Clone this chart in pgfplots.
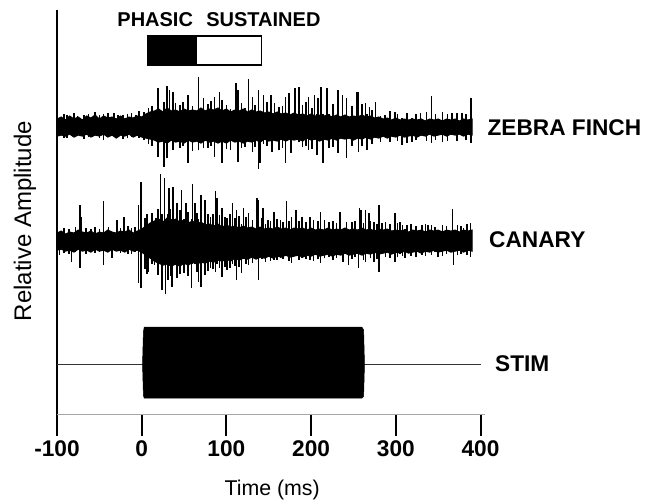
\documentclass[border=0pt]{standalone}
\usepackage{pgfplots}
\usepackage{pgfplotstable}
\pgfplotsset{compat=1.18}
\usepackage{fontspec}
\setmainfont{Liberation Sans}

\pgfplotstableread{
x t b
-92 300 276
-88 299 276
-80 301 280
-76 298 279
-68 299 275
-63 300 277
-55 302 279
-50 299 276
-45 300 274
-40 301 278
-33 301 278
-28 299 277
-22 299 275
-17 300 276
-12 301 277
-7 299 278
-3 303 276
3 302 274
8 306 270
12 308 268
19 326 257
26 312 247
30 328 256
33 324 280
37 322 264
40 311 275
45 309 266
49 312 268
55 319 251
60 308 263
67 337 264
73 316 266
78 310 266
82 313 268
86 317 257
92 322 275
95 314 251
100 309 265
105 305 264
111 331 275
114 324 252
118 311 266
122 306 267
126 335 276
131 317 262
134 309 267
138 324 245
140 300 251
144 319 270
148 312 268
153 319 275
154 300 262
157 311 275
162 307 264
166 308 266
170 317 251
174 321 275
176 300 261
181 326 276
186 327 272
190 309 267
194 312 268
197 317 264
201 306 265
204 319 274
207 300 259
208 316 276
212 327 276
214 300 251
219 326 276
221 300 266
226 310 267
232 324 261
237 319 276
242 316 256
248 308 268
254 322 276
256 322 262
260 310 268
264 311 276
266 300 264
269 307 276
272 304 270
276 312 277
282 298 272
287 299 278
293 303 272
299 302 277
302 300 273
307 296 269
313 301 271
319 296 272
324 300 274
329 301 279
336 302 273
342 318 271
347 300 274
355 302 272
361 300 273
366 301 279
372 301 273
378 301 279
383 300 274
389 316 271
}\zfspikes

\pgfplotstableread{
x t b
-97 180 159
-92 186 161
-86 185 160
-83 182 152
-78 187 162
-73 209 146
-71 197 165
-66 186 160
-60 185 162
-55 187 161
-50 185 162
-45 213 149
-39 187 165
-35 182 156
-29 194 165
-25 186 161
-21 197 163
-16 188 160
-12 186 160
-8 187 162
-4 209 131
-1 232 126
4 196 145
6 200 140
8 190 142
12 201 150
15 190 149
17 196 158
19 205 139
22 240 150
24 200 124
27 236 158
28 195 120
31 200 134
32 226 150
34 205 138
36 195 127
37 227 150
42 211 136
45 204 140
47 224 150
50 195 141
52 211 150
55 202 138
59 195 126
60 230 150
63 211 150
65 201 142
67 195 132
70 219 127
75 214 139
78 200 143
81 197 146
84 200 145
87 223 142
89 216 150
92 199 146
95 206 137
98 197 147
101 196 144
104 200 146
107 211 150
110 196 148
112 204 134
115 198 147
118 190 141
120 206 155
123 197 150
126 201 149
131 194 151
136 216 155
138 214 134
142 196 155
143 206 158
146 190 152
149 194 160
152 193 153
156 202 154
160 195 154
164 194 156
167 192 155
171 213 160
174 193 153
177 197 151
182 204 160
186 193 154
189 197 156
194 192 155
199 197 154
203 194 153
208 193 155
211 202 151
216 194 156
221 192 157
226 193 154
230 191 156
234 202 160
238 185 152
242 192 160
244 185 149
248 192 155
252 193 157
256 185 146
257 206 160
259 204 160
262 191 154
264 204 152
268 201 160
270 193 156
274 192 152
278 190 155
280 209 142
284 191 160
288 192 157
293 190 156
299 201 152
302 191 157
305 192 160
308 189 158
311 185 156
313 189 162
318 190 158
324 188 157
331 189 159
335 190 158
338 189 162
342 189 159
346 187 162
350 182 157
355 189 158
360 188 160
367 205 162
368 182 149
373 189 159
377 188 160
380 186 162
384 190 159
388 191 157
}\caspikes

\begin{document}
\begin{tikzpicture}
\begin{axis}[
  scale only axis,
  x=0.635pt, y=0.75pt,
  xmin=-100, xmax=405, ymin=0, ymax=404,
  clip=false,
  axis x line*=bottom, axis y line*=left,
  x axis line style={gray!70, line width=0.8pt},
  y axis line style={black, line width=1.5pt},
  xtick={-100,0,100,200,300,400},
  xticklabels={-100,0,100,200,300,400},
  ytick=\empty,
  tick align=outside,
  major tick length=16pt,
  x tick style={black, line width=1.5pt},
  xticklabel style={font=\bfseries\fontsize{17}{20}\selectfont},
]
% bounding box of the whole picture (666 x 501 px)
\path (axis cs:-167.3,-87) rectangle (axis cs:619,414);

% phasic / sustained bar
\addplot[fill=black, draw=black, line width=0.8pt] coordinates {(7,349) (65,349) (65,378) (7,378)} --cycle;
\addplot[fill=white, draw=black, line width=0.8pt] coordinates {(65,349) (141,349) (141,378) (65,378)} --cycle;
\node[anchor=base west, inner sep=0, font=\bfseries\fontsize{15}{16}\selectfont] at (axis cs:-29,388) {PHASIC};
\node[anchor=base west, inner sep=0, font=\bfseries\fontsize{15}{16}\selectfont] at (axis cs:76,388) {SUSTAINED};

% zebra finch envelope
\addplot[fill=black, draw=black, line width=0.8pt] table {
x y
-100 295
-95 297
-90 294
-85 298
-80 295
-75 297
-70 294
-65 298
-60 296
-55 299
-50 295
-45 298
-40 296
-35 297
-30 295
-25 298
-20 295
-15 297
-10 296
-5 298
0 297
5 300
10 302
15 303
20 305
25 302
30 306
35 303
40 304
45 302
50 305
55 303
60 304
65 303
70 306
75 303
80 305
85 304
90 306
95 303
100 305
105 302
110 304
115 303
120 305
125 302
130 304
135 302
140 303
145 301
150 302
155 300
160 302
165 300
170 301
175 299
180 301
185 299
190 300
195 298
200 300
205 298
210 299
215 298
220 299
225 297
230 299
235 297
240 299
245 297
250 298
255 297
260 299
265 297
270 298
275 296
280 297
285 295
290 296
295 294
300 296
305 294
310 295
315 294
320 295
325 294
330 295
335 293
340 295
345 294
350 295
355 293
360 295
365 294
370 295
375 293
380 295
385 294
390 295
390 279
385 280
380 278
375 280
370 279
365 280
360 278
355 280
350 279
345 278
340 280
335 278
330 279
325 277
320 279
315 278
310 277
305 279
300 277
295 278
290 276
285 278
280 276
275 277
270 275
265 277
260 275
255 276
250 274
245 276
240 275
235 276
230 274
225 276
220 274
215 275
210 273
205 275
200 274
195 276
190 273
185 275
180 274
175 275
170 273
165 275
160 273
155 274
150 273
145 275
140 272
135 274
130 272
125 273
120 271
115 273
110 272
105 274
100 271
95 273
90 271
85 273
80 272
75 274
70 271
65 273
60 272
55 274
50 271
45 273
40 272
35 274
30 271
25 273
20 272
15 274
10 275
5 276
0 277
-5 279
-10 277
-15 280
-20 278
-25 279
-30 276
-35 279
-40 277
-45 280
-50 278
-55 279
-60 277
-65 280
-70 278
-75 279
-80 277
-85 280
-90 278
-95 279
-100 278
} --cycle;
\addplot[draw=none, mark=none,
  error bars/.cd, y dir=minus, y explicit, error mark=none,
  error bar style={draw=black, line width=1.2pt}]
  table[x=x, y=t, y error minus expr=\thisrow{t}-\thisrow{b}] {\zfspikes};

% canary envelope
\addplot[fill=black, draw=black, line width=0.8pt] table {
x y
-100 181
-95 183
-90 180
-85 182
-80 181
-75 184
-70 182
-65 181
-60 183
-55 180
-50 182
-45 181
-40 184
-35 182
-30 181
-25 183
-20 182
-15 184
-10 181
-5 183
0 185
5 188
10 191
15 193
20 195
25 192
30 196
35 193
40 195
45 192
50 194
55 191
60 193
65 190
70 192
75 189
80 190
85 188
90 190
95 187
100 189
105 187
110 188
115 186
120 188
125 186
130 187
135 185
140 187
145 185
150 186
155 185
160 187
165 185
170 186
175 184
180 186
185 185
190 186
195 184
200 186
205 184
210 185
215 184
220 186
225 184
230 185
235 184
240 186
245 184
250 185
255 184
260 186
265 184
270 185
275 183
280 185
285 184
290 185
295 183
300 184
305 183
310 184
315 182
320 184
325 183
330 184
335 182
340 184
345 183
350 184
355 182
360 184
365 183
370 184
375 182
380 184
385 183
390 184
390 163
385 164
380 162
375 164
370 163
365 162
360 164
355 163
350 162
345 164
340 162
335 163
330 161
325 163
320 162
315 161
310 163
305 161
300 162
295 160
290 162
285 161
280 160
275 162
270 160
265 161
260 159
255 161
250 160
245 159
240 161
235 159
230 160
225 158
220 160
215 159
210 158
205 160
200 158
195 159
190 157
185 159
180 158
175 157
170 159
165 157
160 158
155 156
150 158
145 156
140 157
135 155
130 157
125 155
120 156
115 154
110 156
105 153
100 155
95 153
90 154
85 152
80 153
75 151
70 152
65 150
60 152
55 149
50 151
45 148
40 150
35 148
30 150
25 149
20 151
15 153
10 156
5 159
0 162
-5 164
-10 163
-15 165
-20 162
-25 164
-30 163
-35 165
-40 162
-45 164
-50 163
-55 165
-60 162
-65 164
-70 163
-75 165
-80 162
-85 164
-90 163
-95 165
-100 164
} --cycle;
\addplot[draw=none, mark=none,
  error bars/.cd, y dir=minus, y explicit, error mark=none,
  error bar style={draw=black, line width=1.2pt}]
  table[x=x, y=t, y error minus expr=\thisrow{t}-\thisrow{b}] {\caspikes};

% stimulus
\addplot[gray!40!black, line width=0.8pt] coordinates {(-100,50) (401,50)};
\addplot[fill=black, draw=black] coordinates {(1,50) (2,82) (3,87) (260,87) (262,84) (263,50) (262,18) (260,16) (3,16) (2,19)} --cycle;

% labels
\node[anchor=west, inner sep=0, font=\bfseries\fontsize{17}{20}\selectfont] at (axis cs:408,286) {ZEBRA FINCH};
\node[anchor=west, inner sep=0, font=\bfseries\fontsize{17}{20}\selectfont] at (axis cs:410,174) {CANARY};
\node[anchor=west, inner sep=0, font=\bfseries\fontsize{17}{20}\selectfont] at (axis cs:417,50) {STIM};
\node[rotate=90, inner sep=0, font=\fontsize{18}{20}\selectfont] at (axis cs:-137.8,193) {Relative Amplitude};
\node[inner sep=0, font=\fontsize{16}{18}\selectfont] at (axis cs:154,-76) {Time (ms)};
\end{axis}
\end{tikzpicture}
\end{document}
